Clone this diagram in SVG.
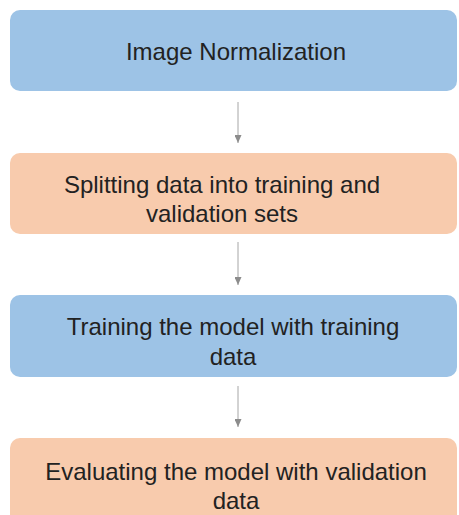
<svg xmlns="http://www.w3.org/2000/svg" width="459" height="515" viewBox="0 0 459 515">
<defs>
<style>
.blue{fill:#9dc3e6}
.orange{fill:#f8cbad}
.lbl{font-family:"Liberation Sans",Arial,sans-serif;font-size:24px;fill:#222;text-anchor:middle}
.conn{stroke:#a6a6a6;stroke-width:1;fill:none}
</style>
<marker id="ah" markerWidth="8" markerHeight="7" refX="8" refY="3.5" orient="auto" markerUnits="userSpaceOnUse" viewBox="0 0 8 7">
<path d="M0,0 L8,3.5 L0,7 Z" fill="#8c8c8c"/>
</marker>
</defs>
<rect width="459" height="515" fill="#ffffff"/>
<g id="n1">
<rect class="blue" x="10" y="10" width="447" height="81" rx="10"/>
<text class="lbl" x="236" y="60">Image Normalization</text>
</g>
<g id="n2">
<rect class="orange" x="10" y="153" width="447" height="81" rx="10"/>
<text class="lbl" x="222" y="193">Splitting data into training and</text>
<text class="lbl" x="222" y="222">validation sets</text>
</g>
<g id="n3">
<rect class="blue" x="10" y="295" width="447" height="82" rx="10"/>
<text class="lbl" x="233" y="335">Training the model with training</text>
<text class="lbl" x="233" y="365">data</text>
</g>
<g id="n4">
<rect class="orange" x="10" y="438" width="447" height="90" rx="10"/>
<text class="lbl" x="236" y="480">Evaluating the model with validation</text>
<text class="lbl" x="236" y="509">data</text>
</g>
<g id="connectors">
<line class="conn" x1="238" y1="102" x2="238" y2="143" marker-end="url(#ah)"/>
<line class="conn" x1="238" y1="242" x2="238" y2="285" marker-end="url(#ah)"/>
<line class="conn" x1="238" y1="386" x2="238" y2="427" marker-end="url(#ah)"/>
</g>
</svg>
